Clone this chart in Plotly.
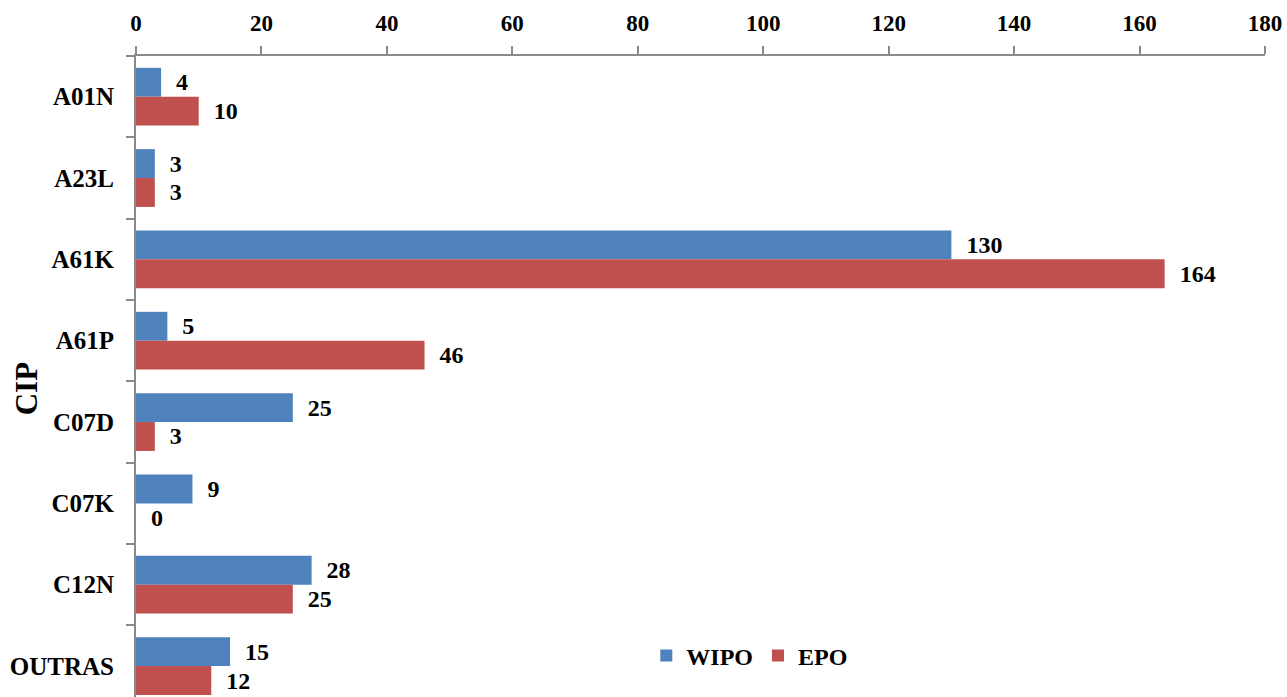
import plotly.graph_objects as go

categories = ["A01N", "A23L", "A61K", "A61P", "C07D", "C07K", "C12N", "OUTRAS"]
wipo = [4, 3, 130, 5, 25, 9, 28, 15]
epo = [10, 3, 164, 46, 3, 0, 25, 12]
x_ticks = [0, 20, 40, 60, 80, 100, 120, 140, 160, 180]

BLUE = "#4F81BD"
RED = "#C0504D"
FONT = "Liberation Serif"
PAD = "\u00a0\u00a0"

fig = go.Figure()
fig.add_trace(go.Bar(
    y=categories, x=wipo, name="<b>WIPO</b>", orientation="h",
    marker=dict(color=BLUE, line=dict(width=0)),
    text=[PAD + f"<b>{v}</b>" for v in wipo], textposition="outside",
    textfont=dict(family=FONT, size=24, color="black"), cliponaxis=False,
))
fig.add_trace(go.Bar(
    y=categories, x=epo, name="<b>EPO</b>", orientation="h",
    marker=dict(color=RED, line=dict(width=0)),
    text=[PAD + f"<b>{v}</b>" for v in epo], textposition="outside",
    textfont=dict(family=FONT, size=24, color="black"), cliponaxis=False,
))

fig.update_layout(
    width=1287, height=697,
    margin=dict(l=136, r=22, t=56, b=0),
    paper_bgcolor="white", plot_bgcolor="white",
    barmode="group", bargap=0.29, bargroupgap=0,
    font=dict(family=FONT, size=22, color="black"),
    showlegend=True,
    legend=dict(
        orientation="h", x=0.452, y=0.064, xanchor="left", yanchor="middle",
        font=dict(family=FONT, size=24, color="black"),
        bgcolor="rgba(0,0,0,0)", itemwidth=30, traceorder="normal",
    ),
    xaxis=dict(
        side="top", range=[0, 180], tickvals=x_ticks,
        ticktext=[f"<b>{t}</b>" for t in x_ticks],
        showgrid=False, zeroline=False,
        showline=True, linecolor="#8a8a8a", linewidth=2,
        ticks="outside", ticklen=8, tickwidth=2, tickcolor="#8a8a8a",
        ticklabelstandoff=6,
        tickfont=dict(family=FONT, size=23, color="black"),
    ),
    yaxis=dict(
        type="category", categoryorder="array", categoryarray=categories,
        range=[7.38, -0.5],
        tickvals=categories, ticktext=[f"<b>{c}</b>" for c in categories],
        showgrid=False, zeroline=False,
        showline=True, linecolor="#8a8a8a", linewidth=2,
        ticks="outside", ticklen=8, tickwidth=2, tickcolor="#8a8a8a",
        tickson="boundaries", ticklabelstandoff=15,
        tickfont=dict(family=FONT, size=25, color="black"),
    ),
    annotations=[dict(
        text="<b>CIP</b>", xref="paper", yref="paper", x=0, y=0.48,
        xshift=-110, xanchor="center", textangle=-90, showarrow=False,
        font=dict(family=FONT, size=31, color="black"),
    )],
)

fig.write_html("out.html")
